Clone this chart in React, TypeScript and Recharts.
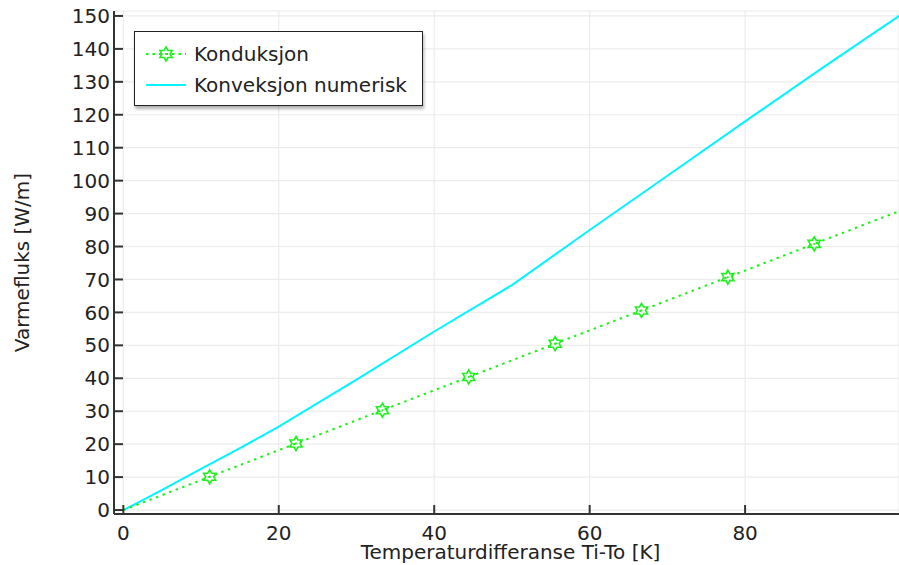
import React from "react";
import { LineChart, Line, XAxis, YAxis, CartesianGrid, Legend } from "recharts";

// Konduksjon (analytisk), markører ved hvert 1/9 av intervallet
const condX = [0, 11.11, 22.22, 33.33, 44.44, 55.56, 66.67, 77.78, 88.89, 100];
const condY = [0, 10.1, 20.2, 30.3, 40.4, 50.5, 60.6, 70.7, 80.8, 90.9];

// Konveksjon numerisk
const convX = [0, 2.5, 5, 7.5, 10, 15, 20, 30, 40, 50, 60, 70, 80, 90, 100];
const convY = [0, 3, 6.1, 9.3, 12.5, 18.8, 25.3, 39.6, 54.2, 68.3, 85, 101.5, 118, 134.3, 150.3];

const xTicks = [0, 20, 40, 60, 80];
const yTicks = [0, 10, 20, 30, 40, 50, 60, 70, 80, 90, 100, 110, 120, 130, 140, 150];

const condData = condX.map((x, i) => ({ x, q: condY[i] }));
const convData = convX.map((x, i) => ({ x, q: convY[i] }));

const GREEN = "#1ef01e";
const CYAN = "#00f5ff";
const AXIS = "#333";
const FONT = "'DejaVu Sans', sans-serif";

function starPoints(cx: number, cy: number, r: number) {
  const pts: string[] = [];
  for (let k = 0; k < 12; k++) {
    const rad = k % 2 === 0 ? r : r * 0.577;
    const a = -Math.PI / 2 + (k * Math.PI) / 6;
    pts.push(`${cx + rad * Math.cos(a)},${cy + rad * Math.sin(a)}`);
  }
  return pts.join(" ");
}

function Star({ cx, cy }: { cx: number; cy: number }) {
  return (
    <g>
      <polygon points={starPoints(cx, cy, 7)} fill="none" stroke={GREEN} strokeWidth={1.6} />
      <circle cx={cx} cy={cy} r={1} fill={GREEN} />
    </g>
  );
}

function CondDot(props: any) {
  const { cx, cy, index } = props;
  if (index === 0 || index === condData.length - 1 || cx == null) return <g key={`d${index}`} />;
  return (
    <g key={`d${index}`}>
      <Star cx={cx} cy={cy} />
    </g>
  );
}

function LegendBox() {
  const row: React.CSSProperties = {
    display: "flex",
    alignItems: "center",
    height: 31,
  };
  return (
    <div
      style={{
        width: 289,
        height: 75,
        boxSizing: "border-box",
        border: "1.5px solid #222",
        background: "#fff",
        boxShadow: "1px 3px 3px rgba(0,0,0,0.3)",
        padding: "6px 0 0 11px",
        fontFamily: FONT,
        fontSize: 20,
        color: "#222",
      }}
    >
      <div style={row}>
        <svg width={40} height={20} style={{ marginRight: 8 }}>
          <line x1={0} y1={10} x2={40} y2={10} stroke={GREEN} strokeWidth={2} strokeDasharray="2.5 4" />
          <Star cx={20} cy={10} />
        </svg>
        <span>Konduksjon</span>
      </div>
      <div style={row}>
        <svg width={40} height={20} style={{ marginRight: 8 }}>
          <line x1={0} y1={10} x2={40} y2={10} stroke={CYAN} strokeWidth={2} />
        </svg>
        <span>Konveksjon numerisk</span>
      </div>
    </div>
  );
}

const tickStyle = { fontSize: 20, fill: "#222", fontFamily: FONT };

export default function App() {
  return (
    <div style={{ position: "absolute", left: 0, top: 0, background: "#fff" }}>
      <LineChart
        width={899}
        height={565}
        margin={{ top: 11, right: 0, bottom: 0, left: 0 }}
      >
        <CartesianGrid stroke="#ececec" strokeWidth={1.2} />
        <XAxis
          dataKey="x"
          type="number"
          domain={[-1.2, 99.8]}
          ticks={xTicks}
          allowDataOverflow
          height={51}
          tickSize={-9}
          tickMargin={21}
          tick={tickStyle}
          axisLine={{ stroke: AXIS, strokeWidth: 2 }}
          tickLine={{ stroke: AXIS, strokeWidth: 2 }}
          label={{
            value: "Temperaturdifferanse Ti-To [K]",
            position: "insideBottom",
            offset: 6,
            dx: 4,
            style: { fontSize: 20, fill: "#222", fontFamily: FONT },
          }}
        />
        <XAxis
          xAxisId="top"
          orientation="top"
          dataKey="x"
          type="number"
          domain={[-1.2, 99.8]}
          ticks={xTicks}
          allowDataOverflow
          height={0}
          tickSize={-9}
          tick={() => <g />}
          axisLine={{ stroke: AXIS, strokeWidth: 2 }}
          tickLine={{ stroke: AXIS, strokeWidth: 2 }}
        />
        <YAxis
          type="number"
          domain={[-1.2, 151.5]}
          ticks={yTicks}
          allowDataOverflow
          width={114}
          tickSize={-9}
          tickMargin={13}
          tick={tickStyle}
          axisLine={{ stroke: AXIS, strokeWidth: 2 }}
          tickLine={{ stroke: AXIS, strokeWidth: 2 }}
          label={{
            value: "Varmefluks [W/m]",
            angle: -90,
            position: "insideLeft",
            offset: 22,
            style: { fontSize: 20, fill: "#222", fontFamily: FONT, textAnchor: "middle" },
          }}
        />
        <Legend
          layout="vertical"
          align="center"
          verticalAlign="middle"
          wrapperStyle={{ left: 134, top: 31, width: "auto", height: "auto" }}
          content={() => <LegendBox />}
        />
        <Line
          data={convData}
          dataKey="q"
          type="linear"
          stroke={CYAN}
          strokeWidth={2}
          dot={false}
          isAnimationActive={false}
        />
        <Line
          data={condData}
          dataKey="q"
          type="linear"
          stroke={GREEN}
          strokeWidth={2}
          strokeDasharray="2.5 4.5"
          dot={CondDot}
          isAnimationActive={false}
        />
      </LineChart>
    </div>
  );
}
